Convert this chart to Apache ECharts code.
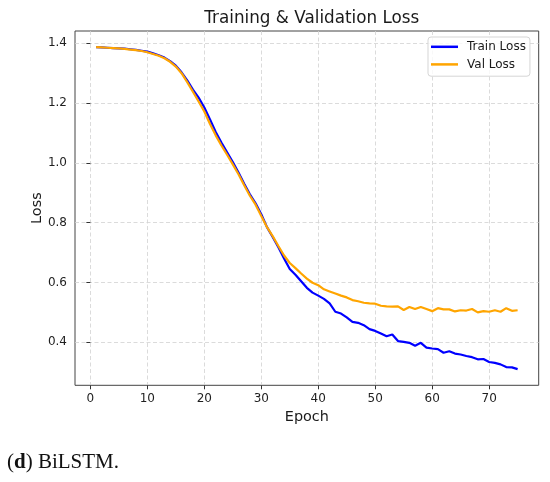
<!DOCTYPE html>
<html>
<head>
<meta charset="utf-8">
<script src="https://cdn.jsdelivr.net/npm/echarts@6/dist/echarts.min.js"></script>
<style>
html,body{margin:0;padding:0;background:#fff;}
#chart{width:550px;height:482px;}
</style>
</head>
<body>
<div id="chart"></div>
<script>
var epochs = [];
for (var i = 1; i <= 75; i++) epochs.push(i);

var trainLoss = [
  1.387, 1.386, 1.385, 1.384, 1.383, 1.382, 1.380, 1.378, 1.375, 1.372,
  1.366, 1.360, 1.352, 1.340, 1.325, 1.303, 1.276, 1.245, 1.218, 1.185,
  1.145, 1.103, 1.068, 1.035, 1.003, 0.968, 0.930, 0.895, 0.865, 0.828,
  0.785, 0.752, 0.718, 0.680, 0.645, 0.626, 0.604, 0.582, 0.566, 0.556,
  0.545, 0.530, 0.502, 0.496, 0.483, 0.468, 0.465, 0.457, 0.444, 0.438,
  0.429, 0.420, 0.426, 0.404, 0.401, 0.398, 0.388, 0.398, 0.382, 0.379,
  0.377, 0.365, 0.370, 0.362, 0.359, 0.354, 0.350, 0.343, 0.344, 0.334,
  0.331, 0.326, 0.317, 0.316, 0.310
];

var valLoss = [
  1.387, 1.386, 1.385, 1.384, 1.383, 1.381, 1.379, 1.377, 1.374, 1.370,
  1.364, 1.358, 1.350, 1.338, 1.322, 1.300, 1.270, 1.238, 1.205, 1.172,
  1.130, 1.092, 1.058, 1.027, 0.995, 0.962, 0.925, 0.890, 0.860, 0.822,
  0.785, 0.755, 0.722, 0.690, 0.665, 0.648, 0.630, 0.613, 0.599, 0.591,
  0.577, 0.570, 0.563, 0.556, 0.550, 0.541, 0.537, 0.532, 0.530, 0.529,
  0.522, 0.520, 0.519, 0.520, 0.508, 0.518, 0.511, 0.518, 0.511, 0.504,
  0.514, 0.510, 0.510, 0.503, 0.507, 0.506, 0.511, 0.500, 0.504, 0.502,
  0.507, 0.502, 0.514, 0.505, 0.507
];

var xTicks = [0, 10, 20, 30, 40, 50, 60, 70];
var yTicks = [0.4, 0.6, 0.8, 1.0, 1.2, 1.4];

var titleText = 'Training & Validation Loss';
var xName = 'Epoch';
var yName = 'Loss';
var seriesNames = ['Train Loss', 'Val Loss'];

var trainData = epochs.map(function (e, i) { return [e, trainLoss[i]]; });
var valData = epochs.map(function (e, i) { return [e, valLoss[i]]; });

var FONT = 'DejaVu Sans';
var chart = echarts.init(document.getElementById('chart'), null, {renderer: 'canvas'});

var splitStyle = {show: true, lineStyle: {color: '#d2d2d2', width: 0.8, type: [4, 2.5]}};

chart.setOption({
  animation: false,
  backgroundColor: '#ffffff',
  title: {
    text: titleText,
    left: 306.8,
    top: 5,
    textAlign: 'center',
    textStyle: {fontFamily: FONT, fontSize: 16.8, fontWeight: 'normal', color: '#1a1a1a'}
  },
  legend: {
    orient: 'vertical',
    left: 428,
    top: 37,
    icon: 'rect',
    itemWidth: 27,
    itemHeight: 2.5,
    itemGap: 0,
    padding: [1, 4, 3, 3],
    backgroundColor: 'rgba(255,255,255,0.8)',
    borderColor: '#d5d5d5',
    borderWidth: 1,
    borderRadius: 3,
    textStyle: {fontFamily: FONT, fontSize: 12, color: '#1a1a1a', lineHeight: 17.6, padding: [0, 0, 0, 4]},
    data: seriesNames
  },
  grid: {
    left: 75, right: 11.3, top: 31, bottom: 96.7,
    show: true, borderColor: '#444444', borderWidth: 1, backgroundColor: 'transparent'
  },
  xAxis: {
    type: 'value',
    min: -2.7,
    max: 78.7,
    name: xName,
    nameLocation: 'middle',
    nameGap: 25,
    nameTextStyle: {fontFamily: FONT, fontSize: 14.4, color: '#1a1a1a'},
    axisLine: {show: false},
    axisTick: {show: true, length: 4, lineStyle: {color: '#333'}, customValues: xTicks},
    axisLabel: {fontFamily: FONT, fontSize: 12, color: '#1f1f1f', margin: 8, customValues: xTicks},
    splitLine: splitStyle
  },
  yAxis: {
    type: 'value',
    min: 0.256,
    max: 1.441,
    name: yName,
    nameLocation: 'middle',
    nameGap: 31,
    nameRotate: 90,
    nameMoveOverlap: false,
    nameTextStyle: {fontFamily: FONT, fontSize: 14.4, color: '#1a1a1a'},
    axisLine: {show: false},
    axisTick: {show: true, length: 4, lineStyle: {color: '#333'}, customValues: yTicks},
    axisLabel: {fontFamily: FONT, fontSize: 12, color: '#1f1f1f', margin: 8, customValues: yTicks,
      formatter: function (v) { return v.toFixed(1); }},
    splitLine: splitStyle
  },
  series: [
    {
      name: seriesNames[0], type: 'line', data: trainData, showSymbol: false, symbol: 'none',
      lineStyle: {color: '#0000ff', width: 2.2}, itemStyle: {color: '#0000ff'}, z: 2
    },
    {
      name: seriesNames[1], type: 'line', data: valData, showSymbol: false, symbol: 'none',
      lineStyle: {color: '#ffa500', width: 2.2}, itemStyle: {color: '#ffa500'}, z: 3
    }
  ],
  graphic: [
    {
      type: 'text',
      left: 7,
      top: 452,
      style: {
        text: '({b|d}) BiLSTM.',
        fontFamily: 'Liberation Serif',
        fontSize: 21,
        fill: '#111',
        rich: {b: {fontFamily: 'Liberation Serif', fontSize: 21, fontWeight: 'bold', fill: '#111'}}
      }
    }
  ]
});
</script>
</body>
</html>
